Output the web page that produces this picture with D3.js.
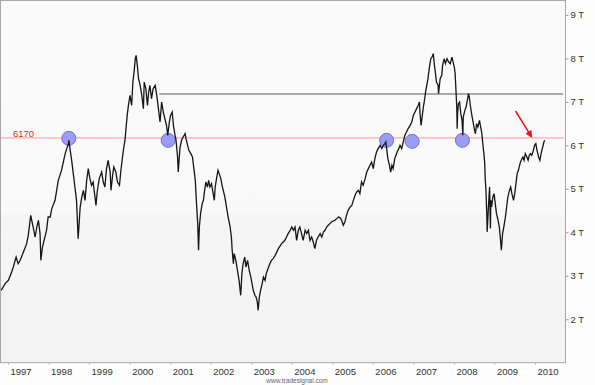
<!DOCTYPE html>
<html><head><meta charset="utf-8">
<script src="https://cdn.jsdelivr.net/npm/d3@7"></script>
<style>body{margin:0;background:#fdfdfd}svg{display:block}</style>
</head><body>
<svg id="c" width="595" height="385"></svg>
<script>
// ---- data (decimal year, index points) ----
const dates = [
1996.83,1996.93,1997.01,1997.09,1997.13,1997.20,1997.25,1997.30,1997.38,1997.46,1997.50,1997.56,1997.62,1997.67,1997.71,1997.75,1997.79,1997.81,1997.85,1997.89,1997.95,1997.99,
1998.04,1998.08,1998.16,1998.24,1998.32,1998.41,1998.45,1998.49,1998.50,1998.57,1998.61,1998.65,1998.69,1998.73,1998.78,1998.82,1998.86,1998.90,1998.94,1998.98,
1999.02,1999.06,1999.10,1999.15,1999.17,1999.20,1999.25,1999.31,1999.35,1999.39,1999.43,1999.47,1999.52,1999.54,1999.58,1999.61,1999.66,1999.70,1999.75,1999.78,1999.81,1999.84,1999.89,1999.91,1999.94,1999.97,
2000.01,2000.05,2000.08,2000.11,2000.14,2000.16,2000.19,2000.22,2000.26,2000.30,2000.34,2000.36,2000.40,2000.44,2000.47,2000.50,2000.54,2000.58,2000.63,2000.67,2000.71,2000.75,2000.79,2000.83,2000.87,2000.91,2000.94,2000.98,
2001.01,2001.05,2001.08,2001.12,2001.14,2001.18,2001.20,2001.24,2001.28,2001.32,2001.37,2001.39,2001.42,2001.46,2001.51,2001.55,2001.59,2001.62,2001.65,2001.68,2001.70,2001.72,2001.75,2001.79,2001.82,2001.85,2001.88,2001.92,2001.95,2001.98,
2002.02,2002.06,2002.09,2002.11,2002.15,2002.18,2002.21,2002.25,2002.28,2002.31,2002.35,2002.39,2002.43,2002.48,2002.51,2002.53,2002.56,2002.58,2002.62,2002.66,2002.70,2002.74,2002.77,2002.80,2002.84,2002.87,2002.91,2002.95,2002.99,
2003.02,2003.05,2003.09,2003.12,2003.15,2003.17,2003.20,2003.23,2003.27,2003.30,2003.34,2003.37,2003.40,2003.43,2003.46,2003.50,2003.54,2003.59,2003.67,2003.75,2003.83,2003.87,2003.91,2003.96,
2004.00,2004.04,2004.08,2004.12,2004.16,2004.20,2004.24,2004.28,2004.33,2004.37,2004.41,2004.45,2004.49,2004.53,2004.57,2004.61,2004.65,2004.70,2004.74,2004.78,2004.82,2004.86,2004.90,2004.94,2004.98,
2005.02,2005.06,2005.11,2005.15,2005.19,2005.23,2005.27,2005.31,2005.35,2005.39,2005.44,2005.48,2005.52,2005.56,2005.60,2005.64,2005.68,2005.72,2005.76,2005.81,2005.85,2005.89,2005.93,2005.97,
2006.01,2006.05,2006.09,2006.13,2006.18,2006.22,2006.26,2006.30,2006.32,2006.34,2006.37,2006.41,2006.44,2006.47,2006.50,2006.54,2006.57,2006.60,2006.64,2006.67,2006.71,2006.75,2006.79,2006.83,2006.87,2006.92,2006.96,
2007.00,2007.04,2007.08,2007.12,2007.15,2007.16,2007.19,2007.21,2007.24,2007.28,2007.30,2007.33,2007.36,2007.39,2007.43,2007.46,2007.49,2007.52,2007.54,2007.57,2007.61,2007.62,2007.66,2007.70,2007.72,2007.76,2007.79,2007.83,2007.87,2007.91,2007.95,2007.97,
2008.01,2008.03,2008.05,2008.07,2008.08,2008.09,2008.11,2008.14,2008.17,2008.20,2008.22,2008.23,2008.27,2008.30,2008.33,2008.36,2008.38,2008.41,2008.45,2008.48,2008.51,2008.53,2008.56,2008.59,2008.63,2008.66,2008.69,2008.72,2008.74,2008.76,2008.77,2008.79,2008.81,2008.82,2008.86,2008.88,2008.90,2008.91,2008.93,2008.96,2008.99,
2009.02,2009.05,2009.09,2009.12,2009.15,2009.17,2009.20,2009.23,2009.27,2009.30,2009.33,2009.37,2009.40,2009.43,2009.47,2009.50,2009.53,2009.56,2009.59,2009.63,2009.66,2009.70,2009.73,2009.76,2009.80,2009.83,2009.86,2009.89,2009.92,2009.96,2009.99,
2010.02,2010.05,2010.09,2010.12,2010.15,2010.19,2010.22,2010.24
];
const values = [
2665,2819,2895,3086,3201,3431,3279,3355,3546,3739,3930,4390,4121,3891,4121,4275,3969,3355,3661,3815,4045,4351,
4351,4544,4735,5195,5425,5809,5924,6039,6115,5655,5349,5041,4735,3854,4581,4811,4965,4735,5195,5464,
5234,5080,5156,4774,4620,4926,5234,5386,5156,5041,5464,5655,5386,4965,5310,5501,5386,5156,5080,5386,5616,5846,6154,6384,6690,6920,
7150,6920,7456,7686,7994,8070,7840,7534,7380,7150,6844,7456,7304,6920,7226,7380,7074,7304,7380,7150,6844,6536,6996,6766,6614,6460,6230,6536,
6690,6766,6460,6230,6154,5770,5386,5924,6115,6191,6269,6154,6039,5885,5809,5731,5425,5195,4659,4199,3585,4121,4429,4659,4735,4965,5156,5041,5195,5041,
5119,4889,4735,5041,5271,5425,5349,5234,5080,4965,4811,4581,4351,4121,3891,3585,3279,3509,3355,3125,2895,2550,3049,3279,3431,3201,3355,3125,2971,
2819,2665,2550,2511,2396,2205,2511,2665,2819,2971,2895,3049,3125,3201,3279,3355,3394,3470,3624,3739,3815,3891,3969,4045,
4121,4045,4121,3815,4045,4121,3969,3815,4045,3969,4045,3815,3891,3776,3624,3815,3891,3969,3891,4006,4045,4121,4160,4199,4236,
4259,4275,4314,4351,4337,4275,4160,4236,4390,4505,4581,4620,4735,4850,4926,4965,4889,5156,5080,5234,5386,5464,5540,5616,
5464,5694,5846,5924,6000,5924,6000,6039,6076,5924,5694,5540,5386,5540,5464,5694,5770,5846,5924,6000,5924,6076,6230,6306,6384,6460,6536,
6690,6766,6844,6920,6996,6766,6460,6614,6844,7074,7226,7380,7534,7764,7994,8031,8109,7840,7686,7456,7380,7189,7534,7610,7840,7994,7879,7994,7916,7879,8031,7955,
7801,7649,7265,6881,6384,6729,6959,6996,6729,6575,6230,6651,6805,6881,7035,7189,7111,6881,6651,6499,6345,6269,6499,6421,6575,6421,6269,5961,5809,5579,5271,4965,4429,4010,4735,5041,4090,4735,4581,4811,4889,
4659,4429,4275,4121,3815,3585,3969,4121,4351,4581,4811,4965,5041,4889,4735,4889,5119,5349,5425,5579,5655,5731,5655,5809,5731,5655,5770,5809,5770,5885,6000,
6039,5885,5731,5655,5809,5961,6076,6115
];
const yearTicks = [1997,1998,1999,2000,2001,2002,2003,2004,2005,2006,2007,2008,2009,2010];
const valueTicks = [2000,3000,4000,5000,6000,7000,8000,9000];
const supportLevel = 6170;
const resistanceLevel = 7180;
const resistanceStart = 2000.73;
const touchDates = [1998.50, 2000.95, 2006.34, 2006.97, 2008.21];
const touchValues = [6161, 6115, 6115, 6092, 6115];
const arrowFrom = [2009.52, 6790];
const arrowTo = [2009.92, 6190];

// ---- drawing ----
const svg = d3.select("#c");
const x = d3.scaleLinear().domain([1996.827, 2010.74]).range([1, 565]);
const y = d3.scaleLinear().domain([1000, 9320]).range([362.7, 1]);

const defs = svg.append("defs");
const grad = defs.append("linearGradient").attr("id","bg").attr("x1",0).attr("y1",0).attr("x2",0).attr("y2",1);
grad.append("stop").attr("offset","0%").attr("stop-color","#fafafa");
grad.append("stop").attr("offset","58%").attr("stop-color","#f9f9f9");
grad.append("stop").attr("offset","60%").attr("stop-color","#f6f5f5");
grad.append("stop").attr("offset","100%").attr("stop-color","#f4f3f3");
defs.append("marker").attr("id","ah").attr("viewBox","0 0 10 10").attr("refX",9).attr("refY",5)
  .attr("markerWidth",7).attr("markerHeight",7).attr("markerUnits","userSpaceOnUse").attr("orient","auto")
  .append("path").attr("d","M0,0L10,5L0,10Z").attr("fill","#e8141b");

svg.append("rect").attr("x",0).attr("y",0).attr("width",595).attr("height",385).attr("fill","#fdfdfd");
svg.append("rect").attr("x",1).attr("y",1).attr("width",564).attr("height",361.7).attr("fill","url(#bg)");

// support line
svg.append("line").attr("x1",x.range()[0]).attr("x2",x.range()[1]-1)
  .attr("y1",y(supportLevel)).attr("y2",y(supportLevel))
  .attr("stroke","#ff9a9a").attr("stroke-width",1);
svg.append("text").attr("x",13).attr("y",y(supportLevel)-1)
  .attr("font-family","Liberation Sans, Arial, sans-serif").attr("font-size",9.5)
  .attr("fill","#f01c1c").text(String(supportLevel));

// resistance line
svg.append("line").attr("x1",x(resistanceStart)).attr("x2",x.range()[1]-2)
  .attr("y1",y(resistanceLevel)).attr("y2",y(resistanceLevel))
  .attr("stroke","#a7aca4").attr("stroke-width",2);

// touch circles
svg.append("g").selectAll("circle").data(touchDates).join("circle")
  .attr("cx",(d)=>x(d)).attr("cy",(d,i)=>y(touchValues[i])).attr("r",7)
  .attr("fill","#9c9cf2").attr("stroke","#6f6fd8").attr("stroke-width",1);

// price line
const pts = dates.map((d,i)=>[d,values[i]]);
svg.append("path").datum(pts)
  .attr("d", d3.line().x(d=>x(d[0])).y(d=>y(d[1])))
  .attr("fill","none").attr("stroke","#151515").attr("stroke-width",1.3).attr("stroke-linejoin","miter");

// arrow
svg.append("line").attr("x1",x(arrowFrom[0])).attr("y1",y(arrowFrom[1]))
  .attr("x2",x(arrowTo[0])).attr("y2",y(arrowTo[1]))
  .attr("stroke","#e8141b").attr("stroke-width",1.5).attr("marker-end","url(#ah)");

// border
svg.append("rect").attr("x",0.5).attr("y",0.5).attr("width",565).attr("height",362.2)
  .attr("fill","none").attr("stroke","#a8a8a8").attr("stroke-width",1);

// axes
const fontFam = "Liberation Sans, Arial, sans-serif";
const ay = svg.append("g").attr("transform","translate(565.5,0)")
  .call(d3.axisRight(y).tickValues(valueTicks).tickSize(3).tickPadding(2).tickFormat(d=>(d/1000)+" T"));
ay.select(".domain").remove();
ay.selectAll("line").attr("stroke","#999");
ay.selectAll("text").attr("font-family",fontFam).attr("font-size",9.5).attr("fill","#333");

const ax = svg.append("g").attr("transform","translate(0,362.7)")
  .call(d3.axisBottom(x).tickValues(yearTicks).tickSize(2).tickPadding(4).tickFormat(d=>String(d)));
ax.select(".domain").remove();
ax.selectAll("line").attr("stroke","#bbb");
ax.selectAll("text").attr("text-anchor","start").attr("x",2)
  .attr("font-family",fontFam).attr("font-size",9.5).attr("fill","#333");

svg.append("text").attr("x",297).attr("y",382.5).attr("text-anchor","middle")
  .attr("font-family",fontFam).attr("font-size",6.5).attr("fill","#666").text("www.tradesignal.com");
</script>
</body></html>
